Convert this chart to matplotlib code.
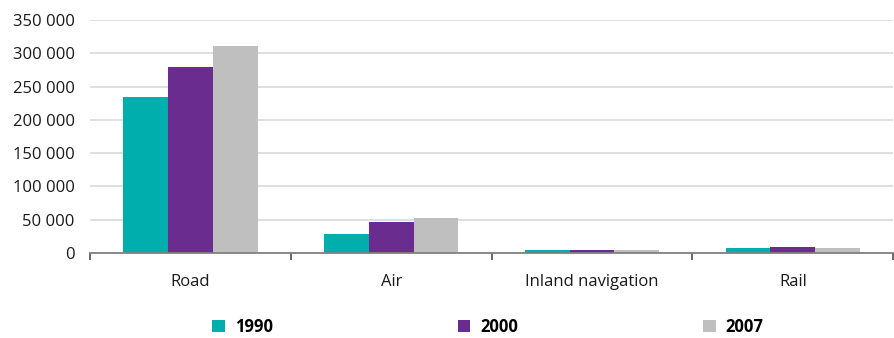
import numpy as np
import matplotlib.pyplot as plt
from matplotlib.patches import Patch
from matplotlib.ticker import FuncFormatter, FixedLocator

plt.rcParams['font.family'] = ['Open Sans', 'DejaVu Sans']

# ── data ──
categories = ['Road', 'Air', 'Inland navigation', 'Rail']
years = ['1990', '2000', '2007']
values_1990 = [235000, 29000, 5000, 8000]
values_2000 = [279000, 47000, 5000, 8500]
values_2007 = [311000, 53000, 5000, 8000]
colors = ['#00AEAE', '#6A2C8F', '#BFBFBF']

fig = plt.figure(figsize=(8.95, 3.38), dpi=100)
ax = fig.add_axes([0.1006, 0.2515, 0.8974, 0.6894])

x = np.arange(len(categories))
w = 0.223
for i, (vals, c) in enumerate(zip([values_1990, values_2000, values_2007], colors)):
    ax.bar(x + (i - 1) * w, vals, width=w, color=c, linewidth=0, zorder=3)

ax.set_xlim(-0.5, len(categories) - 0.5)
ax.set_ylim(0, 350000)
ax.set_yticks(np.arange(0, 350001, 50000))
ax.yaxis.set_major_formatter(FuncFormatter(lambda v, p: f'{int(v):,}'.replace(',', ' ')))
ax.grid(axis='y', color='#D9D9D9', linewidth=1.2, zorder=0)
for s in ['top', 'right', 'left']:
    ax.spines[s].set_visible(False)
ax.spines['bottom'].set_color('#808080')
ax.spines['bottom'].set_linewidth(1.3)
ax.spines['bottom'].set_zorder(4)

ax.set_xticks(x)
ax.set_xticklabels(categories)
ax.xaxis.set_minor_locator(FixedLocator(np.arange(-0.5, len(categories), 1.0)))
ax.tick_params(axis='x', which='major', length=0, pad=15, labelsize=12, labelcolor='#1a1a1a')
ax.tick_params(axis='x', which='minor', length=5, width=1.1, color='#404040', direction='out')
ax.tick_params(axis='y', length=0, pad=11, labelsize=12, labelcolor='#1a1a1a')

handles = [Patch(facecolor=c, edgecolor='none') for c in colors]
leg = fig.legend(handles, years, loc='center', bbox_to_anchor=(0.545, 0.032),
                 ncol=3, frameon=False, handlelength=0.75, handleheight=0.75,
                 handletextpad=0.6, columnspacing=11.1,
                 prop={'weight': 'bold', 'size': 12})

plt.savefig('out.png', dpi=100)
